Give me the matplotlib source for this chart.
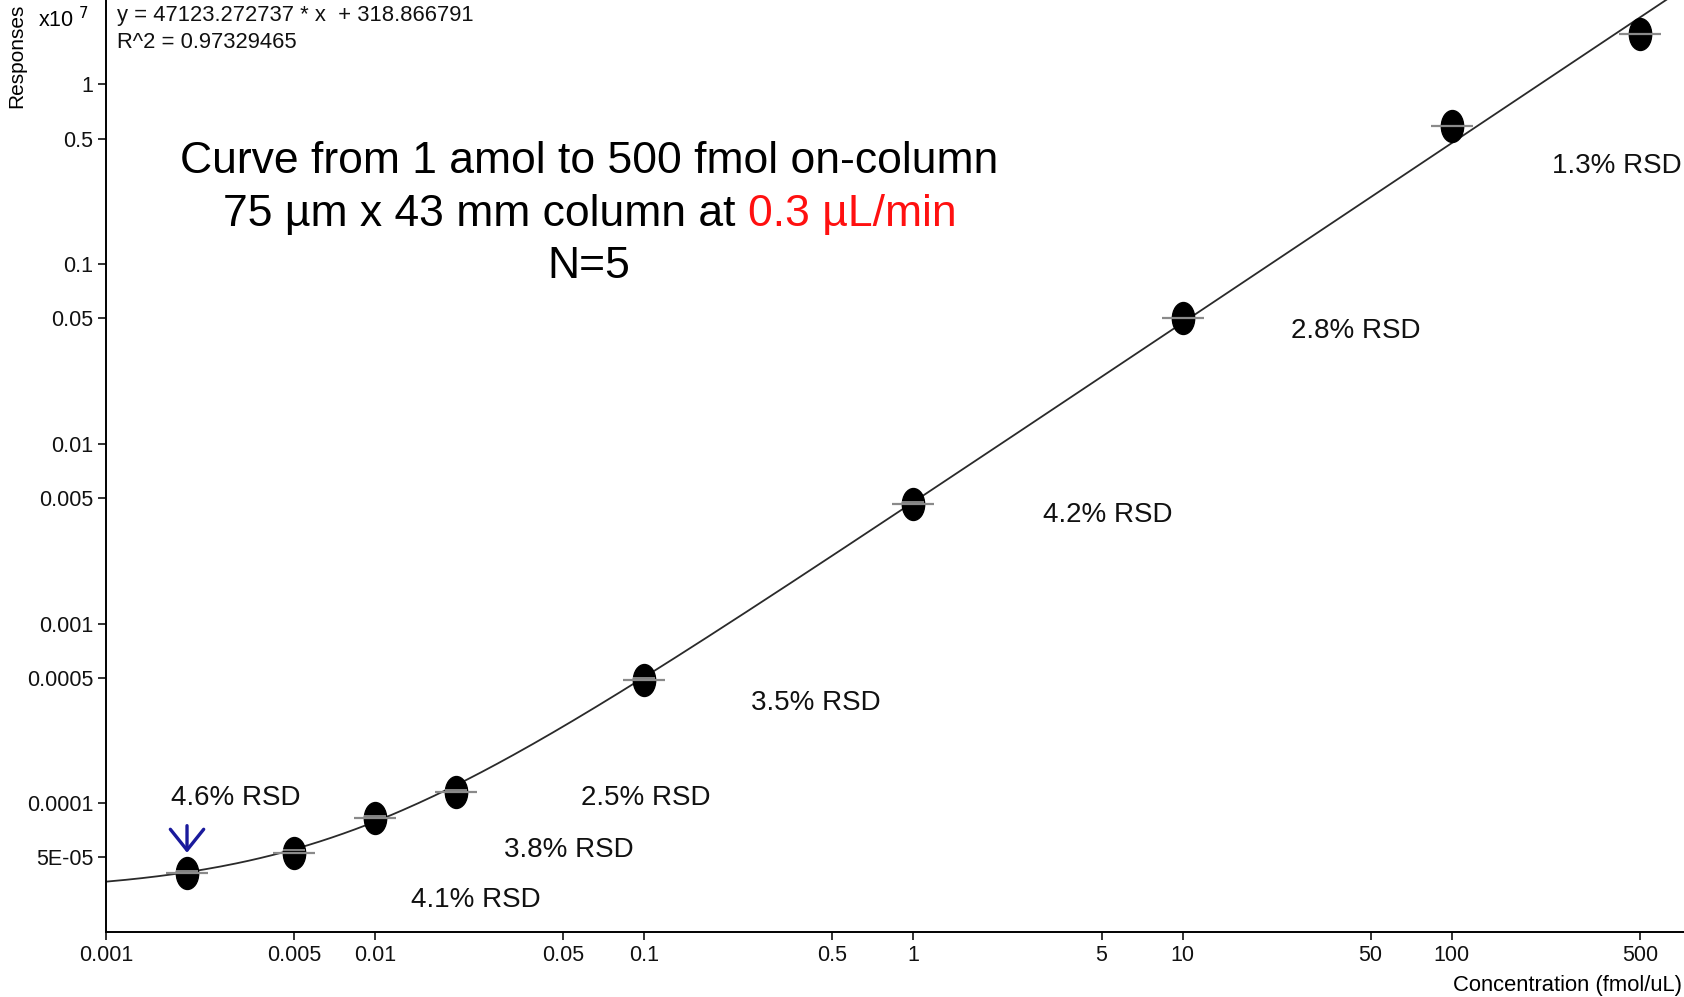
import matplotlib
matplotlib.use("Agg")
import matplotlib.pyplot as plt
import numpy as np
from matplotlib.markers import MarkerStyle
from matplotlib.transforms import Affine2D

plt.rcParams['font.family'] = ['Liberation Sans', 'DejaVu Sans']

###########################################################
### -------------------- DATA ------------------------------
###########################################################

# concentration levels (fmol/uL) and mean responses (x10^7)
conc = [0.002, 0.005, 0.01, 0.02, 0.1, 1, 10, 100, 500]
resp = [4.09e-5, 5.31e-5, 8.25e-5, 1.15e-4, 4.86e-4, 4.6e-3, 0.050, 0.589, 1.91]

# linear fit shown in the chart
slope = 47123.272737
intercept = 318.866791
r2 = 0.97329465

# RSD labels and where they sit (data coords, left edge)
rsd_labels = ['4.6% RSD', '4.1% RSD', '3.8% RSD', '2.5% RSD', '3.5% RSD',
              '4.2% RSD', '2.8% RSD', '1.3% RSD']
rsd_x = [0.00175, 0.0136, 0.0302, 0.058, 0.25, 3.02, 25.4, 235]
rsd_y = [1.07e-4, 2.9e-5, 5.46e-5, 1.07e-4, 3.59e-4, 4.04e-3, 0.0423, 0.352]

xticks = [0.001, 0.005, 0.01, 0.05, 0.1, 0.5, 1, 5, 10, 50, 100, 500]
xticklabels = ['0.001', '0.005', '0.01', '0.05', '0.1', '0.5', '1', '5', '10', '50', '100', '500']
yticks = [5e-5, 1e-4, 5e-4, 1e-3, 5e-3, 1e-2, 5e-2, 0.1, 0.5, 1]
yticklabels = ['5E-05', '0.0001', '0.0005', '0.001', '0.005', '0.01', '0.05', '0.1', '0.5', '1']

xlim = (0.001, 730)
ylim = (1.92e-5, 2.95)

###########################################################
### -------------------- PLOT ------------------------------
###########################################################

fig = plt.figure(figsize=(16.84, 9.97), dpi=100)
ax = fig.add_axes([106/1684, 1 - 932/997, 1 - 106/1684, 932/997])

# fitted curve (in units of x10^7)
xfit = np.logspace(np.log10(xlim[0]), np.log10(xlim[1]), 400)
yfit = (slope * xfit + intercept) / 1e7
ax.plot(xfit, yfit, color='#2a2a2a', lw=1.3, zorder=2)

# replicate blobs + gray bars
blob = MarkerStyle('o', transform=Affine2D().scale(0.7, 1.0))
ax.plot(conc, resp, ls='none', marker=blob, markersize=23, color='black', zorder=3)
ax.plot(conc, resp, ls='none', marker='_', markersize=30, markeredgewidth=1.6,
        color='#8a8a8a', zorder=4)
ax.plot(conc[:6], [v * 1.03 for v in resp[:6]], ls='none', marker='_', markersize=16,
        markeredgewidth=1.2, color='#9a9a9a', zorder=4)

for lab, tx, ty in zip(rsd_labels, rsd_x, rsd_y):
    ax.text(tx, ty, lab, fontsize=20, ha='left', va='center', color='#111111')

# arrow at lowest level
ax.annotate('', xy=(conc[0], resp[0] * 1.25), xytext=(conc[0], resp[0] * 1.9),
            arrowprops=dict(arrowstyle='->, head_length=0.5, head_width=0.4',
                            color='#1a1a9c', lw=2.4, mutation_scale=30))

# big title block
ax.text(0.306, 0.827, 'Curve from 1 amol to 500 fmol on-column', transform=ax.transAxes,
        fontsize=32, ha='center', va='center')
t1 = ax.text(0.0742, 0.770, '75 \u00b5m x 43 mm column at ', transform=ax.transAxes,
             fontsize=32, ha='left', va='center')
ax.annotate('0.3 \u00b5L/min', xycoords=t1, xy=(1, 0.5), va='center', ha='left',
            fontsize=32, color='#ff1010')
ax.text(0.306, 0.714, 'N=5', transform=ax.transAxes, fontsize=32, ha='center', va='center')

# fit equation, top left
ax.text(0.007, 0.995, 'y = %.6f * x  + %.6f' % (slope, intercept), transform=ax.transAxes,
        fontsize=15.8, ha='left', va='top', color='#111111')
ax.text(0.007, 0.966, 'R^2 = %.8f' % r2, transform=ax.transAxes,
        fontsize=15.8, ha='left', va='top', color='#111111')

ax.set_xscale('log')
ax.set_yscale('log')
ax.set_xlim(xlim)
ax.set_ylim(ylim)
ax.minorticks_off()
ax.set_xticks(xticks)
ax.set_xticklabels(xticklabels)
ax.set_yticks(yticks)
ax.set_yticklabels(yticklabels)
ax.tick_params(axis='both', direction='out', length=6, width=1.2, labelsize=15.5,
               colors='#111111', pad=3)

for side in ['top', 'right']:
    ax.spines[side].set_visible(False)
for side in ['left', 'bottom']:
    ax.spines[side].set_linewidth(1.4)

fig.text(38/1684, 1 - 20/997, 'x10 $^{7}$', fontsize=15.5, ha='left', va='center')
fig.text(17/1684, 1 - 4/997, 'Responses', fontsize=15, rotation=90, ha='center', va='top')
fig.text(0.999, 1 - 985/997, 'Concentration (fmol/uL)', fontsize=15.8, ha='right', va='center')

plt.savefig('out.png', dpi=100)
